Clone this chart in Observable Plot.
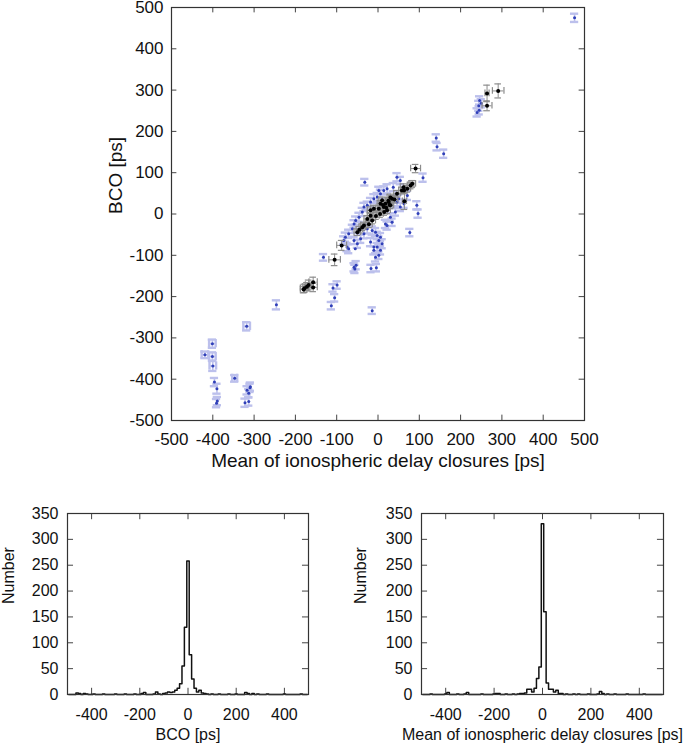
<!DOCTYPE html>
<html>
<head>
<meta charset="utf-8">
<script src="https://cdn.jsdelivr.net/npm/d3@7"></script>
<script src="https://cdn.jsdelivr.net/npm/@observablehq/plot@0.6"></script>
<style>
  html, body { margin: 0; padding: 0; background: white; }
  #wrap { position: relative; width: 685px; height: 750px; font-family: "Liberation Sans", Arial, sans-serif; }
  #wrap > div { position: absolute; }
</style>
</head>
<body>
<div id="wrap">
  <div id="main" style="left:0;top:0"></div>
  <div id="h1" style="left:0;top:490px"></div>
  <div id="h2" style="left:342px;top:490px"></div>
</div>
<script>
// ---------- Scatter data (ps) ----------
// Blue: values with vertical (and occasionally horizontal) error bars
const blueX  = [476,141,143,159,246,250,244,240,245,109,-32,94,97,77,-132,-58,-53,-56,-17,-4,-109,-99,-105,-113,-14,-246,-318,-401,-419,-401,-400,-396,-390,-391,-389,-347,-317,-310,-313,-322,-313,-309,
  46,54,37,22,14,2,6,-2,-10,-18,-26,-34,-38,-46,-54,-58,-62,-71,-79,-83,-75,-58,-50,-42,-26,-14,-6,-2,6,2,10,-2,6,2,-10,-18,-34,22,30,42,54,63,71,46,18,34,50,-6,-71,-55,-10];
const blueY  = [475,184,163,146,275,268,262,246,251,88,77,21,1,-45,-105,-129,-124,-133,-132,-130,-179,-172,-203,-222,-234,-220,-272,-314,-341,-345,-368,-407,-423,-458,-453,-398,-427,-421,-434,-457,-454,-418,
  89,81,65,61,57,57,49,41,37,29,21,17,5,-8,-16,-24,-36,-48,-56,-64,-80,-64,-72,-60,-36,-40,-44,-52,-56,-64,-72,-80,-88,-100,-88,-68,-48,-28,-8,5,17,25,45,29,-24,-20,37,-105,-84,-84,-80];
const blueEy = [10,9,9,10,10,10,12,10,10,10,8,10,10,9,8,10,10,10,9,9,9,9,9,9,8,11,10,10,8,10,12,10,12,10,10,8,10,10,10,10,10,10,
  10,9,10,11,10,9,10,10,11,10,9,10,10,11,10,9,10,10,11,10,10,9,10,10,11,10,10,9,10,10,11,10,10,9,10,10,11,10,10,9,10,10,11,10,10,9,10,10,11];
const blueEx = [0,0,0,0,0,0,0,0,0,0,0,0,0,0,0,0,0,0,0,0,0,0,0,0,0,0,8,8,8,8,8,0,0,0,0,6,0,0,0,0,0,0,
  0,0,0,0,0,0,0,0,0,0,0,0,0,0,0,0,0,0,0,0,0,0,0,0,0,0,0,0,0,0,0,0,0,0,0,0,0,0,0,0,0,0,0,0,0,0,0,0,0,0,0];

// Black: values with horizontal and vertical error bars
const blackX  = [264,291,264,91,64,-88,-105,-178,-172,-168,-157,-157,-180,83,79,63,71,46,58,18,26,30,14,34,10,22,2,-10,-18,-18,-26,-14,-38,-50,-34,20,25,15,5,-5,30,40,28,12,-22,-45,6,62];
const blackY  = [292,298,262,110,31,-76,-111,-180,-176,-172,-165,-178,-183,73,69,57,61,49,57,25,29,21,17,37,33,9,13,13,9,-4,-12,-16,-32,-44,-28,15,32,5,0,-5,40,35,22,22,-25,-38,25,65];
const blackEx = [5,14,12,12,5,12,14,10,10,8,10,10,8,8,8,8,8,8,8,8,8,8,8,8,8,8,8,8,8,8,8,8,8,8,8,8,8,8,8,8,8,8,8,8,8,8,8,8];
const blackEy = [20,17,12,10,20,12,14,10,10,12,12,10,8,8,8,8,8,8,8,8,8,8,8,8,8,8,8,8,8,8,8,8,8,8,8,8,8,8,8,8,8,8,8,8,8,8,8,8];

const mainTicks = [-500,-400,-300,-200,-100,0,100,200,300,400,500];

// ---------- Histogram data (bin centres, width 10 ps) ----------
const bcoBinCenter = [-460,-450,-430,-420,-390,-350,-300,-260,-220,-190,-180,-140,-130,-120,-100,-90,-80,-70,-60,-50,-40,-30,-20,-10,0,10,20,30,40,50,60,70,80,100,130,170,200,240,250,270,290,330,400,470];
const bcoCount     = [3,2,2,1,1,1,1,1,1,2,4,1,5,1,2,3,5,4,5,8,12,21,55,130,258,77,30,12,5,8,3,2,1,1,1,1,1,4,2,2,1,1,1,1];
const ionoBinCenter = [-460,-400,-390,-350,-320,-310,-250,-200,-190,-180,-150,-120,-100,-90,-80,-70,-60,-50,-40,-30,-20,-10,0,10,20,30,40,50,60,70,80,100,130,150,190,230,240,250,270,300,350,420];
const ionoCount     = [1,1,4,1,1,4,1,1,2,2,1,1,1,2,2,3,10,10,5,12,31,53,330,160,22,10,10,5,8,2,2,1,1,1,1,1,6,2,1,1,1,1];
const histXTicks = [-400,-200,0,200,400];
const histYTicks = [0,50,100,150,200,250,300,350];

// ---------- build tables ----------
const blue = blueX.map((x,i)=>({x, y: blueY[i], ey: blueEy[i], ex: blueEx[i]}));
const black = blackX.map((x,i)=>({x, y: blackY[i], ey: blackEy[i], ex: blackEx[i]}));
const blueXe = blue.filter(d=>d.ex>0);

const FONT = "'Liberation Sans', Arial, sans-serif";
const LAV = "#bcc0ec", GRAY = "#8c8c8c";
const CAP = 10;  // cap half-width (data units)
const TL = 13;   // inward tick length (data units)

function errMarks(data, color, sw, csw, xdata, cap) {
  const m = [
    Plot.ruleX(data, {x: "x", y1: d=>d.y-d.ey, y2: d=>d.y+d.ey, stroke: color, strokeWidth: sw}),
    Plot.ruleY(data, {y: d=>d.y+d.ey, x1: d=>d.x-cap, x2: d=>d.x+cap, stroke: color, strokeWidth: csw}),
    Plot.ruleY(data, {y: d=>d.y-d.ey, x1: d=>d.x-cap, x2: d=>d.x+cap, stroke: color, strokeWidth: csw})
  ];
  if (xdata.length) m.push(
    Plot.ruleY(xdata, {y: "y", x1: d=>d.x-d.ex, x2: d=>d.x+d.ex, stroke: color, strokeWidth: sw}),
    Plot.ruleX(xdata, {x: d=>d.x-d.ex, y1: d=>d.y-cap, y2: d=>d.y+cap, stroke: color, strokeWidth: csw}),
    Plot.ruleX(xdata, {x: d=>d.x+d.ex, y1: d=>d.y-cap, y2: d=>d.y+cap, stroke: color, strokeWidth: csw})
  );
  return m;
}

const mainPlot = Plot.plot({
  width: 685, height: 490,
  marginLeft: 171, marginRight: 101, marginTop: 7, marginBottom: 70,
  style: {fontFamily: FONT, fontSize: "17px", color: "#111", background: "white", overflow: "visible"},
  x: {domain: [-500, 500], ticks: mainTicks, tickSize: 0, tickPadding: 12, tickFormat: d=>String(d), label: null},
  y: {domain: [-500, 500], ticks: mainTicks, tickSize: 0, tickPadding: 8, tickFormat: d=>String(d), label: null},
  marks: [
    ...errMarks(blue, LAV, 1.6, 2.4, blueXe, CAP),
    Plot.dot(blue, {x: "x", y: "y", r: 1.5, fill: "#2f3fb8", stroke: "none"}),
    ...errMarks(black, GRAY, 1, 1.2, black, 8),
    Plot.dot(black, {x: "x", y: "y", r: 2, fill: "#000", stroke: "none"}),
    Plot.ruleX(mainTicks, {x: d=>d, y1: -500, y2: -500+TL, stroke: "#444"}),
    Plot.ruleX(mainTicks, {x: d=>d, y1: 500, y2: 500-TL, stroke: "#444"}),
    Plot.ruleY(mainTicks, {y: d=>d, x1: -500, x2: -500+TL, stroke: "#444"}),
    Plot.ruleY(mainTicks, {y: d=>d, x1: 500, x2: 500-TL, stroke: "#444"}),
    Plot.frame({stroke: "#333", strokeWidth: 1.2}),
    Plot.text(["Mean of ionospheric delay closures [ps]"], {text: d=>d, frameAnchor: "bottom", dy: 46, fontSize: 19, fill: "#111"}),
    Plot.text(["BCO [ps]"], {text: d=>d, frameAnchor: "left", dx: -56, rotate: -90, fontSize: 19, fill: "#111"})
  ]
});
document.getElementById("main").appendChild(mainPlot);

function histSeries(centers, counts) {
  const m = new Map(centers.map((c,i)=>[c, counts[i]]));
  const pts = d3.range(-490, 500, 10).map(c => ({x: c-5, y: m.get(c) ?? 0}));
  pts.push({x: 495, y: 0});
  return pts;
}

function histPlot(centers, counts, xlabel, mLeft, mRight, width, ylabDx) {
  return Plot.plot({
    width, height: 260,
    marginLeft: mLeft, marginRight: mRight, marginTop: 23, marginBottom: 56,
    style: {fontFamily: FONT, fontSize: "16px", color: "#111", background: "white"},
    x: {domain: [-500, 500], ticks: histXTicks, tickSize: 0, tickPadding: 14, tickFormat: d=>String(d), label: null},
    y: {domain: [0, 350], ticks: histYTicks, tickSize: 0, tickPadding: 9, tickFormat: d=>String(d), label: null},
    marks: [
      Plot.ruleX(histXTicks, {x: d=>d, y1: 0, y2: 12, stroke: "#444"}),
      Plot.ruleX(histXTicks, {x: d=>d, y1: 350, y2: 338, stroke: "#444"}),
      Plot.ruleY(histYTicks, {y: d=>d, x1: -500, x2: -475, stroke: "#444"}),
      Plot.ruleY(histYTicks, {y: d=>d, x1: 500, x2: 475, stroke: "#444"}),
      Plot.line(histSeries(centers, counts), {x: "x", y: "y", curve: "step-after", stroke: "#111", strokeWidth: 1.5}),
      Plot.frame({stroke: "#333", strokeWidth: 1.2}),
      Plot.text([xlabel], {text: d=>d, frameAnchor: "bottom", dy: 45, fontSize: 16, fill: "#111"}),
      Plot.text(["Number"], {text: d=>d, frameAnchor: "left", dx: ylabDx, rotate: -90, fontSize: 16, fill: "#111"})
    ]
  });
}

document.getElementById("h1").appendChild(histPlot(bcoBinCenter, bcoCount, "BCO [ps]", 67, 34, 342, -59));
document.getElementById("h2").appendChild(histPlot(ionoBinCenter, ionoCount, "Mean of ionospheric delay closures [ps]", 79, 22, 343, -61));
</script>
</body>
</html>
